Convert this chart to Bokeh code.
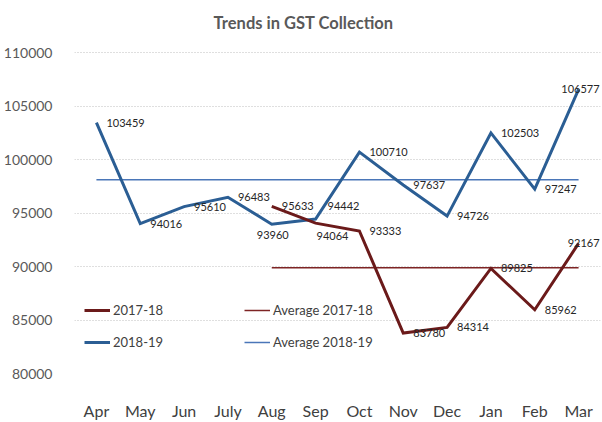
from bokeh.plotting import figure
from bokeh.models import (ColumnDataSource, Legend, LegendItem, FactorRange, Range1d,
                          SingleIntervalTicker, NumeralTickFormatter)
from bokeh.embed import file_html
from bokeh.resources import INLINE
from bokeh.core.properties import value

# ---- data ----
months = ["Apr", "May", "Jun", "July", "Aug", "Sep", "Oct", "Nov", "Dec", "Jan", "Feb", "Mar"]
gst_2018_19 = [103459, 94016, 95610, 96483, 93960, 94442, 100710, 97637, 94726, 102503, 97247, 106577]
months_2017_18 = ["Aug", "Sep", "Oct", "Nov", "Dec", "Jan", "Feb", "Mar"]
gst_2017_18 = [95633, 94064, 93333, 83780, 84314, 89825, 85962, 92167]
avg_2018_19 = 98114
avg_2017_18 = 89885
title_text = "Trends in GST Collection"

FONT = "Lato"
C18 = "#2B5E94"
C17 = "#6B1A1A"
CAVG18 = "#4A76B8"
CAVG17 = "#7E2424"

# plot area spans the full height; the top 53 px (above 110000) hold the title
Y_MIN, Y_TOP = 80000, 114892

p = figure(width=602, height=422, x_range=FactorRange(*months, range_padding=0),
           y_range=Range1d(Y_MIN, Y_TOP), output_backend="svg", toolbar_location=None,
           min_border_left=72, min_border_right=2, min_border_top=0, min_border_bottom=44)
p.outline_line_color = None
p.background_fill_color = "white"
p.border_fill_color = "white"

# axes
p.yaxis.ticker = SingleIntervalTicker(interval=5000)
p.yaxis.formatter = NumeralTickFormatter(format="0")
p.yaxis.axis_line_color = None
p.yaxis.major_tick_line_color = None
p.yaxis.minor_tick_line_color = None
p.yaxis.major_label_standoff = 16
p.yaxis.major_label_text_font = FONT
p.yaxis.major_label_text_font_size = "14px"
p.yaxis.major_label_text_color = "#595959"

p.xaxis.axis_line_color = None
p.xaxis.major_tick_line_color = None
p.xaxis.minor_tick_line_color = None
p.xaxis.major_label_standoff = 21
p.xaxis.major_label_text_font = FONT
p.xaxis.major_label_text_font_size = "16px"
p.xaxis.major_label_text_color = "#404040"

p.xgrid.grid_line_color = None
p.ygrid.grid_line_color = "#BFBFBF"
p.ygrid.grid_line_dash = "1 2"
p.ygrid.grid_line_width = 1

# average lines
r_avg17 = p.line(months_2017_18, [avg_2017_18] * len(months_2017_18), line_color=CAVG17, line_width=1.5)
r_avg18 = p.line(months, [avg_2018_19] * len(months), line_color=CAVG18, line_width=1.5)

# series lines
r18 = p.line(months, gst_2018_19, line_color=C18, line_width=3, line_join="miter")
r17 = p.line(months_2017_18, gst_2017_18, line_color=C17, line_width=3, line_join="miter")

# data labels
def label_layout(n):
    return [10] * n, [0] * n, ["left"] * n

xo18, yo18, al18 = label_layout(len(months))
xo18[4], yo18[4], al18[4] = 1, 11, "center"   # Aug: below
xo18[5], yo18[5] = 12, -13                     # Sep: above right
xo18[11], al18[11] = 21, "right"               # Mar: inside

xo17, yo17, al17 = label_layout(len(months_2017_18))
xo17[1], yo17[1] = 1, 13                       # Sep: below right
xo17[7], al17[7] = 21, "right"                 # Mar: inside

lab_src = ColumnDataSource(dict(
    x=months + months_2017_18,
    y=gst_2018_19 + gst_2017_18,
    t=[str(v) for v in gst_2018_19 + gst_2017_18],
    xo=xo18 + xo17, yo=yo18 + yo17, al=al18 + al17,
))
p.text(x="x", y="y", text="t", x_offset="xo", y_offset="yo", text_align="al", source=lab_src,
       text_baseline="middle", text_font=value(FONT), text_font_size="11px",
       text_color="#262626", text_font_style="normal")

# title (drawn at the top of the plot area)
p.text(x=["Sep"], y=[Y_TOP], text=[title_text], x_offset=-12, y_offset=22,
       text_align="center", text_baseline="middle", text_font=value(FONT),
       text_font_size="16.5px", text_font_style="bold", text_color="#595959")

# legends
def mk_legend(items, vx):
    return Legend(items=items, location=(vx, 21), orientation="vertical",
                  glyph_width=26, glyph_height=20, label_height=20, spacing=12,
                  label_standoff=3, padding=0, margin=0, border_line_color=None,
                  background_fill_alpha=0, label_text_font=FONT, label_text_font_size="13px",
                  label_text_color="#404040")

leg1 = mk_legend([LegendItem(label="2017-18", renderers=[r17]),
                  LegendItem(label="2018-19", renderers=[r18])], 10)
leg2 = mk_legend([LegendItem(label="Average 2017-18", renderers=[r_avg17]),
                  LegendItem(label="Average 2018-19", renderers=[r_avg18])], 170)
p.add_layout(leg1, "center")
p.add_layout(leg2, "center")

open("out.html", "w").write(file_html(p, INLINE))
